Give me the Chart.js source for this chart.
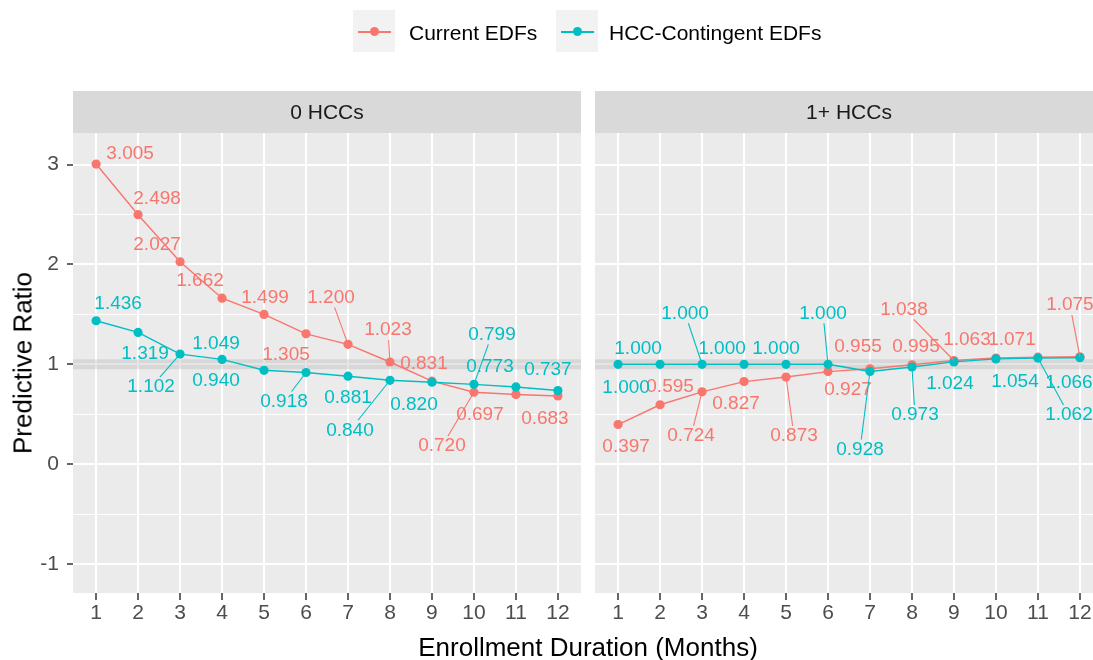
<!DOCTYPE html>
<html><head><meta charset="utf-8">
<script src="https://cdn.jsdelivr.net/npm/chart.js@4.4.0/dist/chart.umd.min.js"></script>
<style>
html,body{margin:0;padding:0;background:#fff;}
body{width:1093px;height:660px;overflow:hidden;position:relative;font-family:"Liberation Sans",Arial,sans-serif;}
.wrap{position:absolute;top:0;}
#wa{left:0;width:590px;height:660px}
#wb{left:587px;width:530px;height:660px}
.lkey{position:absolute;top:10px;width:42px;height:42px;background:#f2f2f2}
.lline{position:absolute;left:5px;width:33px;top:21px;height:1.5px}
.ldot{position:absolute;left:16.5px;top:17px;width:9px;height:9px;border-radius:50%}
.ltext{position:absolute;top:33px;transform:translateY(-50%);font-size:21px;color:#000;white-space:nowrap}
.title{position:absolute;font-size:26px;color:#000;white-space:nowrap}
</style></head>
<body>
<div class="wrap" id="wa"><canvas id="ca" width="590" height="660"></canvas></div>
<div class="wrap" id="wb"><canvas id="cb" width="530" height="660"></canvas></div>

<div class="lkey" style="left:353px"><div class="lline" style="background:#F8766D"></div><div class="ldot" style="background:#F8766D"></div></div>
<div class="ltext" style="left:409px">Current EDFs</div>
<div class="lkey" style="left:556px"><div class="lline" style="background:#00BFC4"></div><div class="ldot" style="background:#00BFC4"></div></div>
<div class="ltext" style="left:609px">HCC-Contingent EDFs</div>

<div class="title" style="left:23px;top:363px;transform:translate(-50%,-50%) rotate(-90deg)">Predictive Ratio</div>
<div class="title" style="left:588px;top:647px;transform:translate(-50%,-50%)">Enrollment Duration (Months)</div>

<script>
// ---------------- data ----------------
const months = [1,2,3,4,5,6,7,8,9,10,11,12];
const panelNames = ["0 HCCs", "1+ HCCs"];
const seriesNames = ["Current EDFs", "HCC-Contingent EDFs"];
const currentEDF_0HCC = [3.005, 2.498, 2.027, 1.662, 1.499, 1.305, 1.200, 1.023, 0.831, 0.720, 0.697, 0.683];
const hccEDF_0HCC     = [1.436, 1.319, 1.102, 1.049, 0.940, 0.918, 0.881, 0.840, 0.820, 0.799, 0.773, 0.737];
const currentEDF_1HCC = [0.397, 0.595, 0.724, 0.827, 0.873, 0.927, 0.955, 0.995, 1.038, 1.063, 1.071, 1.075];
const hccEDF_1HCC     = [1.000, 1.000, 1.000, 1.000, 1.000, 1.000, 0.928, 0.973, 1.024, 1.054, 1.062, 1.066];
const yTicks = [-1, 0, 1, 2, 3];
const yMinorTicks = [-0.5, 0.5, 1.5, 2.5];
const referenceLine = 1;

// ---------------- layout (label placement, repel-style) ----------------
const lblCur0 = [[34,-10],[19,-16],[-23,-17],[-22,-17],[1,-17],[-20,21],[-17,-47],[-2,-32],[-8,-17],[-32,54],[-36,20],[-13,23]];
const segCur0 = [0,0,0,0,0,0,1,1,0,1,0,0];
const lblHcc0 = [[22,-17],[7,21],[-29,33],[-6,-16],[-48,10],[-22,29],[0,22],[-40,50],[-18,22],[18,-50],[-26,-20],[-10,-21]];
const segHcc0 = [0,0,1,0,0,1,0,1,0,1,0,0];
const lblCur1 = [[8,22],[10,-18],[-11,44],[-8,22],[8,59],[20,18],[-12,-22],[4,-18],[-50,-51],[-29,-18],[-26,-17],[-10,-52]];
const segCur1 = [0,0,1,0,1,0,0,0,1,0,0,1];
const lblHcc1 = [[8,23],[-22,-16],[-17,-51],[-22,-16],[-10,-16],[-5,-51],[-10,78],[3,48],[-4,22],[19,23],[31,57],[-11,25]];
const segHcc1 = [0,0,1,0,0,1,1,1,0,0,1,0];

const RED = '#F8766D', CYAN = '#00BFC4';
const FONT = '"Liberation Sans", Arial, sans-serif';
Chart.defaults.font.family = FONT;

const allY = yTicks.concat(yMinorTicks).sort((a,b)=>a-b);
const X_MIN = 0.45, X_MAX = 12.55, Y_MIN = -1.29, Y_MAX = 3.316;

const facetPlugin = {
  id: 'facet',
  beforeDraw(chart, args, opts) {
    const {ctx, chartArea: a} = chart;
    ctx.save();
    ctx.fillStyle = '#ebebeb';
    ctx.fillRect(a.left, a.top, a.right - a.left, a.bottom - a.top);
    ctx.fillStyle = '#d9d9d9';
    ctx.fillRect(a.left, opts.stripTop, a.right - a.left, a.top - opts.stripTop);
    ctx.fillStyle = '#1a1a1a';
    ctx.font = '21px ' + FONT;
    ctx.textAlign = 'center';
    ctx.textBaseline = 'middle';
    ctx.fillText(opts.title, (a.left + a.right) / 2, (opts.stripTop + a.top) / 2 + 1);
    ctx.restore();
  },
  beforeDatasetsDraw(chart) {
    const {ctx, chartArea: a} = chart;
    const y = chart.scales.y.getPixelForValue(referenceLine);
    ctx.save();
    ctx.strokeStyle = 'rgba(175,175,175,0.32)';
    ctx.lineWidth = 10;
    ctx.beginPath(); ctx.moveTo(a.left, y); ctx.lineTo(a.right, y); ctx.stroke();
    ctx.restore();
  },
  afterDatasetsDraw(chart) {
    const ctx = chart.ctx, xs = chart.scales.x, ys = chart.scales.y;
    ctx.save();
    ctx.font = '19px ' + FONT;
    ctx.textAlign = 'center';
    ctx.textBaseline = 'middle';
    chart.data.datasets.forEach(ds => {
      ds.data.forEach((d, i) => {
        const px = xs.getPixelForValue(d.x), py = ys.getPixelForValue(d.y);
        const off = ds.labelOffsets[i];
        const cx = px + off[0], cy = py + off[1];
        const txt = d.y.toFixed(3);
        const w = ctx.measureText(txt).width;
        if (ds.leaders[i]) {
          const hw = w / 2 + 2, hh = 10;
          const ddx = px - cx, ddy = py - cy;
          const t = Math.min(ddx ? hw / Math.abs(ddx) : Infinity, ddy ? hh / Math.abs(ddy) : Infinity);
          if (t < 1) {
            ctx.strokeStyle = ds.borderColor;
            ctx.lineWidth = 1.1;
            ctx.beginPath();
            ctx.moveTo(cx + ddx * t, cy + ddy * t);
            ctx.lineTo(px, py);
            ctx.stroke();
          }
        }
        ctx.fillStyle = ds.borderColor;
        ctx.fillText(txt, cx, cy);
      });
    });
    ctx.restore();
  }
};

function series(name, values, color, order, offs, segs) {
  return {
    label: name,
    data: months.map((m, i) => ({x: m, y: values[i]})),
    borderColor: color,
    backgroundColor: color,
    pointBackgroundColor: color,
    pointBorderWidth: 0,
    pointRadius: 4.6,
    borderWidth: 1.4,
    tension: 0,
    order: order,
    labelOffsets: offs,
    leaders: segs
  };
}

function makeChart(id, title, cur, hcc, lc, sc, lh, sh, yWidth, padRight, showY) {
  return new Chart(document.getElementById(id), {
    type: 'line',
    data: { datasets: [
      series(seriesNames[0], cur, RED, 2, lc, sc),
      series(seriesNames[1], hcc, CYAN, 1, lh, sh)
    ]},
    options: {
      responsive: false,
      animation: false,
      events: [],
      layout: { padding: { top: 133, right: padRight, left: 0, bottom: 0 } },
      plugins: { legend: { display: false }, tooltip: { enabled: false },
                 facet: { title: title, stripTop: 91 } },
      scales: {
        x: {
          type: 'linear', min: X_MIN, max: X_MAX,
          afterBuildTicks: s => { s.ticks = months.map(v => ({value: v})); },
          afterFit: s => { s.height = 67; },
          ticks: { autoSkip: false, maxRotation: 0, color: '#4d4d4d', font: {size: 21}, padding: 1,
                   callback: v => String(v) },
          grid: { color: '#ffffff', lineWidth: 2, tickColor: '#333333', tickWidth: 1.5, tickLength: 7 },
          border: { display: false }
        },
        y: {
          type: 'linear', min: Y_MIN, max: Y_MAX,
          afterBuildTicks: s => { s.ticks = allY.map(v => ({value: v})); },
          afterFit: s => { s.width = yWidth; },
          ticks: { display: showY, color: '#4d4d4d', font: {size: 21}, padding: 8,
                   callback: v => yTicks.includes(v) ? String(v) : '' },
          grid: {
            color: '#ffffff',
            lineWidth: c => yTicks.includes(c.tick.value) ? 2 : 1,
            tickColor: c => (showY && yTicks.includes(c.tick.value)) ? '#333333' : 'rgba(0,0,0,0)',
            tickWidth: 1.5, tickLength: 6
          },
          border: { display: false }
        }
      }
    },
    plugins: [facetPlugin]
  });
}

makeChart('ca', panelNames[0], currentEDF_0HCC, hccEDF_0HCC, lblCur0, segCur0, lblHcc0, segHcc0, 73, 9, true);
makeChart('cb', panelNames[1], currentEDF_1HCC, hccEDF_1HCC, lblCur1, segCur1, lblHcc1, segHcc1, 8, 14, false);
</script>
</body></html>
